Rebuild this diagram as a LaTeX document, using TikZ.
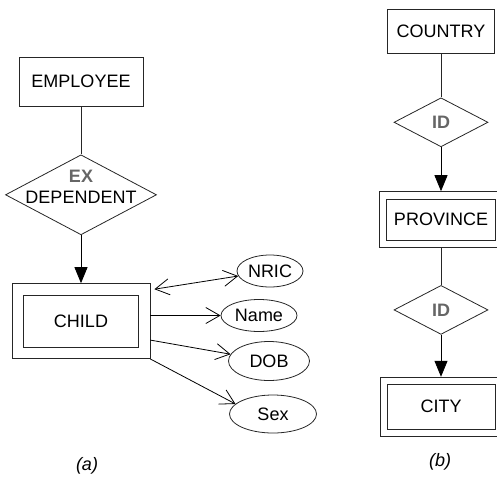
\documentclass[tikz,border=0pt]{standalone}
\usepackage{fontspec}
\setmainfont{Liberation Sans}
\usetikzlibrary{arrows.meta,positioning,shapes.geometric}
\definecolor{relgray}{gray}{0.4}

\begin{document}
\begin{tikzpicture}[
      x=1pt, y=-1pt, line width=0.8pt,
      every node/.style={font=\fontsize{18}{21}\selectfont},
      entity/.style={rectangle, draw=black!85, inner sep=0pt},
      weak/.style={rectangle, draw=black!85, inner sep=0pt,
                   path picture={\draw [black!85] ([shift={(#1,-#1)}]path picture bounding box.north west)
                                   rectangle ([shift={(-#1,#1)}]path picture bounding box.south east);}},
      rel/.style={diamond, draw=black!85, inner sep=0pt, text=relgray, font=\fontsize{18}{21}\selectfont\bfseries},
      attr/.style={ellipse, draw=black!85, inner sep=0pt},
      link/.style={draw=black!85},
      ident/.style={-{Triangle[length=16pt,width=13pt]}, draw=black},
      arr/.style={-{Straight Barb[length=14pt,width=16pt]}, draw=black},
      dbl/.style={{Straight Barb[length=14pt,width=16pt]}-{Straight Barb[length=14pt,width=16pt]}, draw=black},
      caption/.style={font=\fontsize{18}{21}\selectfont\itshape}
  ]
  \clip (0,0) rectangle (497,479);

  % (a) weak entity with attributes
  \node (emp) [entity, minimum width=124pt, minimum height=49pt] at (81,81.5) {EMPLOYEE};
  \node (dep) [rel, minimum width=151pt, minimum height=80pt, below=48pt of emp,
               label={[yshift=8pt, align=center]center:{\textbf{\color{relgray}EX}\\DEPENDENT}}] {};
  \node (child) [weak=11.5pt, minimum width=138pt, minimum height=75pt, below=48pt of dep] {CHILD};

  \node (nric) [attr, minimum width=66pt, minimum height=32pt] at (270,271) {NRIC};
  \node (name) [attr, minimum width=76pt, minimum height=32pt] at (259,315.5) {Name};
  \node (dob)  [attr, minimum width=81pt, minimum height=39pt] at (269,361) {DOB};
  \node (sex)  [attr, minimum width=87pt, minimum height=38pt] at (273,414) {Sex};

  \draw [link] (emp) -- (dep);
  \draw [ident] (dep) -- (child);
  \draw [dbl] ([xshift=4pt,yshift=-6pt]child.north east) -- (nric);
  \draw [arr] (child.east |- name.west) -- (name.west);
  \draw [arr] ([yshift=-19pt]child.east) -- (dob);
  \draw [arr] (child.south east) -- (sex.165);

  % (b) chain of identifying relationships
  \node (country) [entity, minimum width=107pt, minimum height=44pt] at (441,31) {COUNTRY};
  \node (id1) [rel, minimum width=94pt, minimum height=49pt, below=44pt of country] {ID};
  \node (prov) [weak=7.5pt, minimum width=124pt, minimum height=56pt, below=44pt of id1] {PROVINCE};
  \node (id2) [rel, minimum width=94pt, minimum height=49pt, below=37pt of prov] {ID};
  \node (city) [weak=7pt, minimum width=122pt, minimum height=59pt, below=42pt of id2] {CITY};

  \draw [link] (country) -- (id1);
  \draw [ident] (id1) -- (prov);
  \draw [link] (prov) -- (id2);
  \draw [ident] (id2) -- (city);

  % captions
  \node (capa) [caption] at (87,466) {(a)};
  \node (capb) [caption] at (440,462) {(b)};

\end{tikzpicture}
\end{document}
